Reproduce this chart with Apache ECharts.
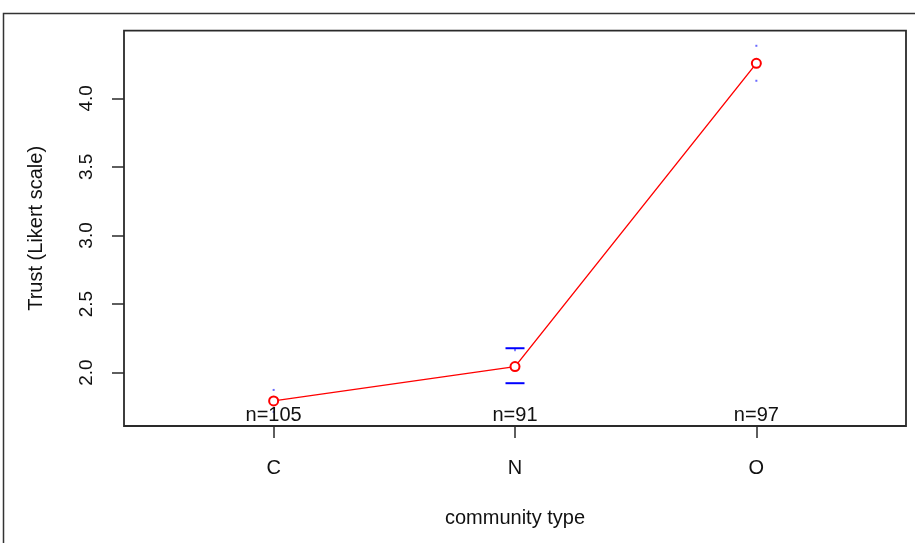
<!DOCTYPE html>
<html>
<head>
<meta charset="utf-8">
<script src="https://cdn.jsdelivr.net/npm/echarts@6/dist/echarts.min.js"></script>
<style>html,body{margin:0;padding:0;background:#fff}#c{width:915px;height:543px}</style>
</head>
<body>
<div id="c"></div>
<script>
// ---- data ----
var categories = ['C', 'N', 'O'];
var means = [1.794, 2.044, 4.255];
var ciLower = [1.714, 1.923, 4.128];
var ciUpper = [1.874, 2.178, 4.383];
var ciStyle = ['dot', 'cap', 'dot'];
var nLabels = ['n=105', 'n=91', 'n=97'];
var yTicks = [2.0, 2.5, 3.0, 3.5, 4.0];
var xTitle = 'community type';
var yTitle = 'Trust (Likert scale)';

var X_MIN = 0.38, X_MAX = 3.62;
var Y_MIN = 1.611, Y_MAX = 4.493;
var FONT = 'Liberation Sans, Arial, sans-serif';
var TXT = '#111';

var chart = echarts.init(document.getElementById('c'), null, {renderer: 'canvas'});

var lineData = categories.map(function (c, i) { return [i + 1, means[i]]; });
var ciData = categories.map(function (c, i) { return [i + 1, ciLower[i], ciUpper[i], ciStyle[i] === 'cap' ? 1 : 0]; });
var nData = categories.map(function (c, i) { return [i + 1, Y_MIN]; });

var option = {
  animation: false,
  backgroundColor: '#fff',
  graphic: [{
    type: 'rect', shape: {x: 3.5, y: 13.5, width: 1000, height: 1000},
    style: {fill: 'none', stroke: '#333', lineWidth: 1.5}, silent: true
  }],
  grid: {left: 124, top: 30.7, right: 9, bottom: 117, show: true, borderColor: '#2a2a2a', borderWidth: 1.8, backgroundColor: 'transparent'},
  xAxis: {
    type: 'value', min: X_MIN, max: X_MAX,
    name: xTitle, nameLocation: 'middle', nameGap: 82,
    nameTextStyle: {fontFamily: FONT, fontSize: 20, color: TXT},
    axisLine: {show: false},
    splitLine: {show: false},
    axisTick: {show: true, inside: false, length: 12, customValues: [1, 2, 3], lineStyle: {color: '#2a2a2a', width: 1.5}},
    axisLabel: {customValues: [1, 2, 3], margin: 32, fontFamily: FONT, fontSize: 20, color: TXT,
      formatter: function (v) { return categories[Math.round(v) - 1] || ''; }}
  },
  yAxis: {
    type: 'value', min: Y_MIN, max: Y_MAX,
    name: yTitle, nameLocation: 'middle', nameGap: 78,
    nameTextStyle: {fontFamily: FONT, fontSize: 20, color: TXT},
    axisLine: {show: false},
    splitLine: {show: false},
    axisTick: {show: true, inside: false, length: 12, customValues: yTicks, lineStyle: {color: '#2a2a2a', width: 1.5}},
    axisLabel: {customValues: yTicks, rotate: 90, margin: 28, fontFamily: FONT, fontSize: 19, color: TXT,
      formatter: function (v) { return v.toFixed(1); }}
  },
  series: [
    {
      type: 'custom', z: 2,
      renderItem: function (params, api) {
        var x = api.value(0), lo = api.value(1), hi = api.value(2), cap = api.value(3);
        var pHi = api.coord([x, hi]), pLo = api.coord([x, lo]);
        var children = [];
        if (cap) {
          var hw = 9.5;
          children.push({type: 'line', shape: {x1: pHi[0] - hw, y1: pHi[1], x2: pHi[0] + hw, y2: pHi[1]}, style: {stroke: '#0000ff', lineWidth: 2}});
          children.push({type: 'line', shape: {x1: pLo[0] - hw, y1: pLo[1], x2: pLo[0] + hw, y2: pLo[1]}, style: {stroke: '#0000ff', lineWidth: 2}});
          children.push({type: 'line', shape: {x1: pHi[0], y1: pHi[1], x2: pHi[0], y2: pHi[1] + 3}, style: {stroke: '#0000ff', lineWidth: 1}});
        } else {
          children.push({type: 'rect', shape: {x: pHi[0] - 1, y: pHi[1] - 1, width: 2, height: 2}, style: {fill: '#6a6aff'}});
          children.push({type: 'rect', shape: {x: pLo[0] - 1, y: pLo[1] - 1, width: 2, height: 2}, style: {fill: '#6a6aff'}});
        }
        return {type: 'group', children: children};
      },
      data: ciData
    },
    {
      type: 'line', z: 3,
      data: lineData,
      symbol: 'emptyCircle', symbolSize: 9,
      lineStyle: {color: '#ff0000', width: 1.4},
      itemStyle: {color: '#ff0000', borderColor: '#ff0000', borderWidth: 1.3},
      showAllSymbol: true
    },
    {
      type: 'scatter', z: 5,
      data: nData, symbolSize: 1,
      itemStyle: {color: 'rgba(0,0,0,0)', opacity: 1},
      label: {show: true, position: 'top', distance: 0, fontFamily: FONT, fontSize: 20, color: TXT, opacity: 1,
        formatter: function (p) { return nLabels[p.dataIndex]; }}
    }
  ]
};
chart.setOption(option);
</script>
</body>
</html>
